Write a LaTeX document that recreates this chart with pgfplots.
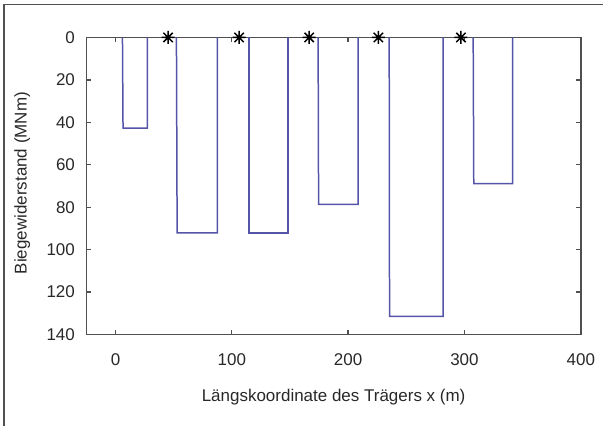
\documentclass[border=0pt]{standalone}
\usepackage{fontspec}
\setmainfont{Liberation Sans}
\usepackage{pgfplots}
\pgfplotsset{compat=1.18}
\definecolor{barblue}{RGB}{84,84,168}
\definecolor{axgray}{RGB}{80,80,80}
\definecolor{txtgray}{RGB}{40,40,40}
\pgfdeclareplotmark{matstar}{%
  \pgfpathmoveto{\pgfqpoint{-\pgfplotmarksize}{0pt}}\pgfpathlineto{\pgfqpoint{\pgfplotmarksize}{0pt}}%
  \pgfpathmoveto{\pgfqpoint{0pt}{-\pgfplotmarksize}}\pgfpathlineto{\pgfqpoint{0pt}{\pgfplotmarksize}}%
  \pgfpathmoveto{\pgfqpoint{-0.72\pgfplotmarksize}{-0.72\pgfplotmarksize}}\pgfpathlineto{\pgfqpoint{0.72\pgfplotmarksize}{0.72\pgfplotmarksize}}%
  \pgfpathmoveto{\pgfqpoint{-0.72\pgfplotmarksize}{0.72\pgfplotmarksize}}\pgfpathlineto{\pgfqpoint{0.72\pgfplotmarksize}{-0.72\pgfplotmarksize}}%
  \pgfusepathqstroke}
\begin{document}
\begin{tikzpicture}[x=1bp,y=1bp]
\path (0,0) rectangle (604,427);
\draw[axgray, line width=1.5bp] (4,0) -- (4,422.3) -- (604,422.3);
\begin{axis}[
  at={(86.5bp,389.5bp)}, anchor=north west,
  width=495bp, height=297.5bp, scale only axis,
  xmin=-25, xmax=400, ymin=0, ymax=140,
  y dir=reverse,
  xtick={0,100,200,300,400},
  ytick={0,20,...,140},
  tick align=inside,
  major tick length=5bp,
  axis line style={axgray, line width=1.6bp},
  every tick/.style={axgray, line width=1.3bp},
  /pgf/number format/assume math mode=true,
  ticklabel style={font=\fontsize{17bp}{20bp}\selectfont, text=txtgray},
  xticklabel shift=16bp,
  yticklabel shift=8bp,
  label style={font=\fontsize{17bp}{20bp}\selectfont, text=txtgray},
  xlabel={Längskoordinate des Trägers x (m)},
  ylabel={Biegewiderstand (MNm)},
  xlabel style={at={(axis description cs:0.5,-0.21)}, anchor=center},
  ylabel style={at={(axis description cs:-0.13,0.51)}, anchor=center},
  clip=false,
]
\addplot[barblue, line width=1.5bp] coordinates {(6,0) (6.5,42.7) (27.5,42.7) (27.5,0)};
\addplot[barblue, line width=1.5bp] coordinates {(52.4,0) (53,92.1) (87.7,92.1) (87.7,0)};
\addplot[barblue, line width=1.5bp] coordinates {(114.6,0) (114.6,92.1) (148.1,92.1) (148.1,0)};
\addplot[barblue, line width=1.5bp] coordinates {(174.2,0) (174.6,78.7) (208.6,78.7) (208.6,0)};
\addplot[barblue, line width=1.5bp] coordinates {(235.3,0) (235.6,131.4) (281.7,131.4) (281.7,0)};
\addplot[barblue, line width=1.5bp] coordinates {(307.5,0) (308,68.9) (341.3,68.9) (341.3,0)};
\addplot[only marks, mark=matstar, mark size=6.5bp, black, line width=1.5bp] coordinates {(45.2,0) (106.3,0) (166.5,0) (226,0) (297,0)};
\end{axis}
\end{tikzpicture}
\end{document}
